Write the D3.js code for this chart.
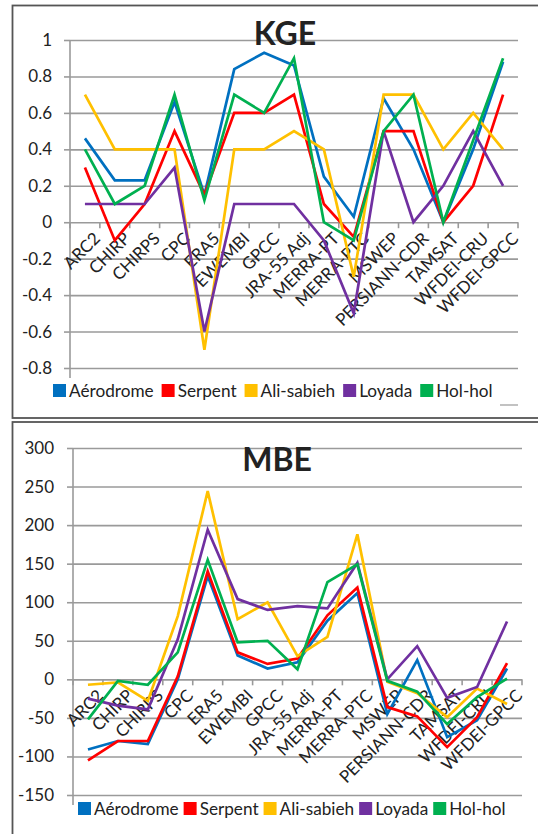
<!DOCTYPE html>
<html>
<head>
<meta charset="utf-8">
<script src="https://cdn.jsdelivr.net/npm/d3@7"></script>
<style>
  body { margin: 0; background: #fff; }
  text { font-family: Lato, "Open Sans", sans-serif; fill: #222; }
</style>
</head>
<body>
<script>
// categories (products) shared by both charts
var products = ["ARC2", "CHIRP", "CHIRPS", "CPC", "ERA5", "EWEMBI", "GPCC", "JRA-55 Adj",
  "MERRA-PT", "MERRA-PTC", "MSWEP", "PERSIANN-CDR", "TAMSAT", "WFDEI-CRU", "WFDEI-GPCC"];
var stations = ["Aérodrome", "Serpent", "Ali-sabieh", "Loyada", "Hol-hol"];
var colors = ["#0070C0", "#FF0000", "#FFC000", "#7030A0", "#00B050"];

// KGE values
var kgeAerodrome = [0.46, 0.23, 0.23, 0.66, 0.15, 0.84, 0.93, 0.86, 0.25, 0.03, 0.68, 0.40, 0.00, 0.40, 0.88];
var kgeSerpent   = [0.30, -0.10, 0.10, 0.50, 0.15, 0.60, 0.60, 0.70, 0.10, -0.08, 0.50, 0.50, 0.00, 0.20, 0.70];
var kgeAliSabieh = [0.70, 0.40, 0.40, 0.40, -0.70, 0.40, 0.40, 0.50, 0.40, -0.30, 0.70, 0.70, 0.40, 0.60, 0.40];
var kgeLoyada    = [0.10, 0.10, 0.10, 0.30, -0.60, 0.10, 0.10, 0.10, -0.10, -0.50, 0.50, 0.00, 0.20, 0.50, 0.20];
var kgeHolhol    = [0.40, 0.10, 0.20, 0.70, 0.12, 0.70, 0.60, 0.90, 0.00, -0.10, 0.50, 0.70, 0.00, 0.45, 0.90];
var kgeTicks = [-0.8, -0.6, -0.4, -0.2, 0, 0.2, 0.4, 0.6, 0.8, 1];

// MBE values
var mbeAerodrome = [-91, -80, -84, 0, 134, 31, 14, 22, 76, 112, -45, 25, -75, -53, 14];
var mbeSerpent   = [-105, -80, -80, 4, 140, 35, 20, 27, 83, 119, -36, -48, -88, -49, 21];
var mbeAliSabieh = [-7, -4, -28, 82, 244, 78, 100, 30, 55, 188, -3, -18, -49, -12, -32];
var mbeLoyada    = [-25, -34, -39, 52, 194, 104, 90, 95, 92, 151, 0, 43, -24, -10, 75];
var mbeHolhol    = [-52, -2, -7, 35, 155, 48, 50, 13, 126, 149, -2, -16, -58, -23, 1];
var mbeTicks = [-150, -100, -50, 0, 50, 100, 150, 200, 250, 300];

var svg = d3.select("body").append("svg")
  .attr("width", 538)
  .attr("height", 834);

function drawPanel(opt) {
  var g = svg.append("g");

  // frame
  g.append("rect")
    .attr("x", 12.5).attr("y", opt.frameTop)
    .attr("width", 560).attr("height", opt.frameH)
    .attr("fill", "none").attr("stroke", "#555").attr("stroke-width", 1.8);

  var x = d3.scaleBand().domain(products).range([opt.left, opt.right]);
  var y = d3.scaleLinear().domain(opt.domain).range([opt.bottom, opt.top]);

  // grid lines
  g.append("g")
    .attr("transform", "translate(" + opt.left + ",0)")
    .call(d3.axisLeft(y).tickValues(opt.ticks).tickSize(-(opt.right - opt.left)).tickFormat(""))
    .call(s => s.select(".domain").remove())
    .call(s => s.selectAll("line").attr("stroke", "#9a9a9a").attr("stroke-width", 1.6));

  var yAxis = g.append("g")
    .attr("transform", "translate(" + opt.left + ",0)")
    .call(d3.axisLeft(y).tickValues(opt.ticks).tickSize(6).tickPadding(opt.pad)
      .tickFormat(d => String(+d.toFixed(1))));
  yAxis.select(".domain").remove();
  yAxis.selectAll("line").attr("stroke", "#9a9a9a").attr("stroke-width", 1.6);
  yAxis.selectAll("text").attr("font-size", 17).attr("fill", "#222")
    .style("font-family", "Lato, sans-serif");

  g.append("line")
    .attr("x1", opt.left).attr("x2", opt.left)
    .attr("y1", opt.top).attr("y2", opt.bottom + 10)
    .attr("stroke", "#9a9a9a").attr("stroke-width", 1.6);

  // category axis on the zero line
  var y0 = y(0);
  var bounds = products.map(d => x(d)).concat([opt.right]);
  g.selectAll(".xt").data(bounds).enter().append("line")
    .attr("x1", d => d).attr("x2", d => d)
    .attr("y1", y0).attr("y2", y0 + 6)
    .attr("stroke", "#9a9a9a").attr("stroke-width", 1.6);

  g.selectAll(".xl").data(products).enter().append("text")
    .attr("transform", d => "translate(" + (x(d) + x.bandwidth() / 2 + 8) + "," + (y0 + 9) + ") rotate(-45)")
    .attr("text-anchor", "end")
    .attr("dy", "0.7em")
    .attr("font-size", 17)
    .text(d => d);

  // series
  var line = d3.line()
    .x((d, i) => x(products[i]) + x.bandwidth() / 2)
    .y(d => y(d));
  opt.series.forEach(function (vals, k) {
    g.append("path")
      .datum(vals)
      .attr("d", line)
      .attr("fill", "none")
      .attr("stroke", colors[k])
      .attr("stroke-width", 2.7)
      .attr("stroke-linejoin", "miter");
  });

  // title
  g.append("text")
    .attr("x", opt.titleX).attr("y", opt.titleY)
    .attr("text-anchor", "middle")
    .attr("font-size", 32).attr("font-weight", "bold")
    .attr("fill", "#000")
    .text(opt.title);

  // legend
  var lx = opt.legendX;
  stations.forEach(function (name, k) {
    g.append("rect")
      .attr("x", lx).attr("y", opt.legendY - 13)
      .attr("width", 13).attr("height", 13)
      .attr("fill", colors[k]);
    var t = g.append("text")
      .attr("x", lx + 16).attr("y", opt.legendY)
      .attr("font-size", 17.2)
      .text(name);
    lx += 16 + t.node().getComputedTextLength() + opt.legendGap;
  });
}

drawPanel({
  frameTop: 5.5, frameH: 412.5,
  left: 70, right: 518, top: 40, bottom: 368,
  domain: [-0.8, 1], ticks: kgeTicks, pad: 12,
  series: [kgeAerodrome, kgeSerpent, kgeAliSabieh, kgeLoyada, kgeHolhol],
  title: "KGE", titleX: 285, titleY: 45,
  legendX: 53, legendY: 397, legendGap: 8
});

// stray short line at the bottom right of the KGE frame
svg.append("line")
  .attr("x1", 500).attr("x2", 518).attr("y1", 405).attr("y2", 405)
  .attr("stroke", "#999").attr("stroke-width", 1.2);

drawPanel({
  frameTop: 422, frameH: 500,
  left: 73, right: 522, top: 448, bottom: 795,
  domain: [-150, 300], ticks: mbeTicks, pad: 13,
  series: [mbeAerodrome, mbeSerpent, mbeAliSabieh, mbeLoyada, mbeHolhol],
  title: "MBE", titleX: 277, titleY: 471,
  legendX: 78, legendY: 815, legendGap: 5
});
</script>
</body>
</html>
